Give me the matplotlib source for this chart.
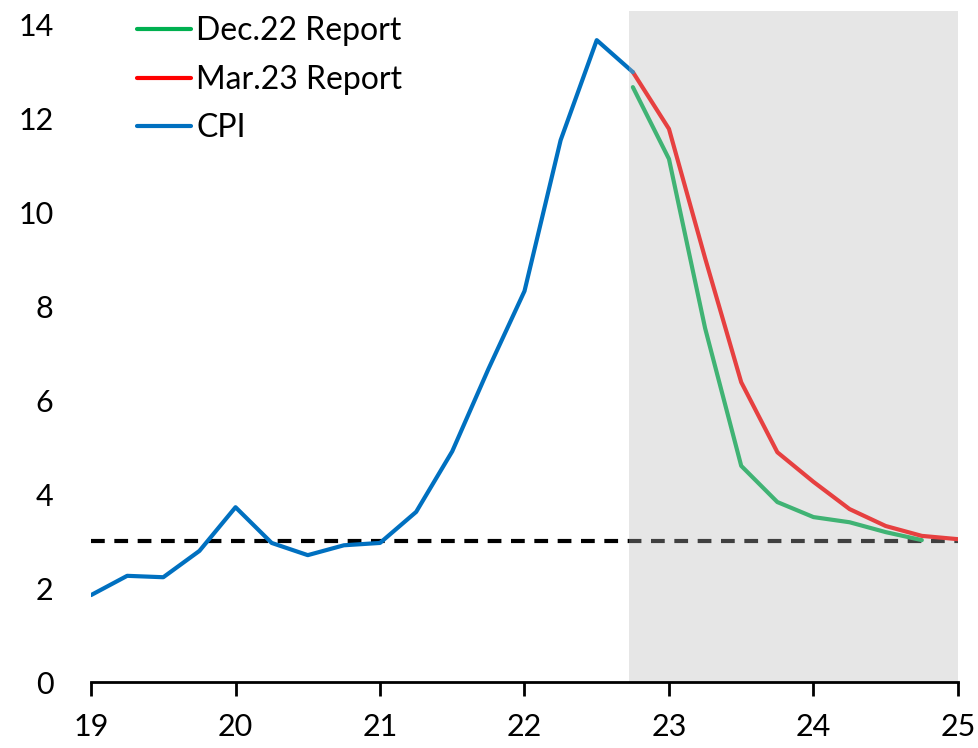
import matplotlib
matplotlib.use("Agg")
import matplotlib.pyplot as plt

plt.rcParams['font.family'] = ['Lato', 'DejaVu Sans']

cpi_x = [19.0, 19.25, 19.5, 19.75, 20.0, 20.25, 20.5, 20.75, 21.0, 21.25, 21.5, 21.75, 22.0, 22.25, 22.5, 22.75]
cpi_y = [1.85, 2.26, 2.23, 2.79, 3.72, 2.96, 2.70, 2.91, 2.96, 3.62, 4.91, 6.66, 8.32, 11.53, 13.66, 12.98]

dec_x = [22.75, 23.0, 23.25, 23.5, 23.75, 24.0, 24.25, 24.5, 24.75]
dec_y = [12.66, 11.13, 7.53, 4.60, 3.83, 3.51, 3.40, 3.19, 3.02]

mar_x = [22.75, 23.0, 23.25, 23.5, 23.75, 24.0, 24.25, 24.5, 24.75, 25.0]
mar_y = [12.98, 11.77, 9.02, 6.38, 4.89, 4.26, 3.68, 3.32, 3.11, 3.04]

target = 3.0
shade_start, shade_end = 22.72, 25.0
xticks = [19, 20, 21, 22, 23, 24, 25]
yticks = [0, 2, 4, 6, 8, 10, 12, 14]

fig = plt.figure(figsize=(9.79, 7.48), dpi=100)
ax = fig.add_axes([0.093, 0.0882, 0.8855, 0.8971])

ax.plot([19, 25], [target, target], color='black', lw=3, dashes=(3.3, 2.3), zorder=1)
l_dec, = ax.plot(dec_x, dec_y, color='#00b050', lw=3, zorder=2, solid_capstyle='round', label='Dec.22 Report')
l_mar, = ax.plot(mar_x, mar_y, color='#ff0000', lw=3, zorder=2, solid_capstyle='round', label='Mar.23 Report')
l_cpi, = ax.plot(cpi_x, cpi_y, color='#0070c0', lw=3, zorder=2, solid_capstyle='round', label='CPI')
ax.axvspan(shade_start, shade_end, color='#b9b9b9', alpha=0.35, lw=0, zorder=3)

ax.set_xlim(19, 25)
ax.set_ylim(0, 14.28)
ax.set_xticks(xticks)
ax.set_yticks(yticks)
ax.set_xticklabels([str(t) for t in xticks])
ax.tick_params(axis='x', direction='out', length=10, width=2, pad=12, labelsize=22)
ax.tick_params(axis='y', length=0, pad=27, labelsize=22)
for s in ['top', 'right', 'left']:
    ax.spines[s].set_visible(False)
ax.spines['bottom'].set_linewidth(2)
ax.spines['bottom'].set_zorder(4)

leg = ax.legend(handles=[l_dec, l_mar, l_cpi], loc='upper left', bbox_to_anchor=(0.02, 1.035),
                frameon=False, prop={'size': 23}, handlelength=1.7,
                handletextpad=0.15, labelspacing=0.58)

fig.savefig('out.png', dpi=100)
